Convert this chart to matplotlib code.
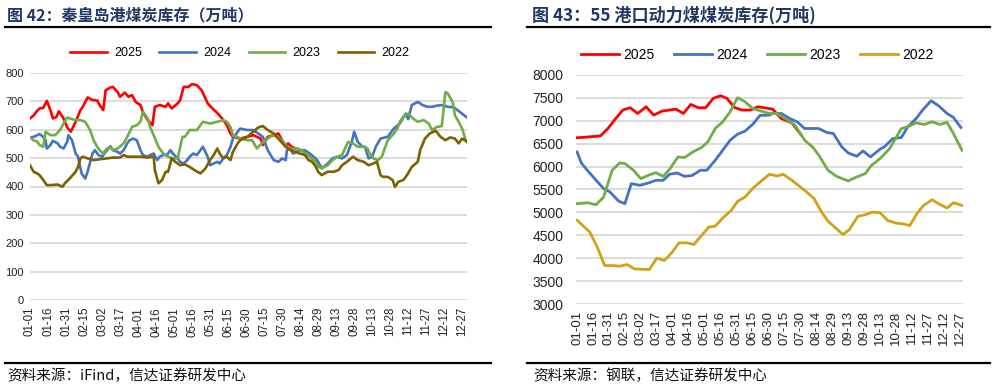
import matplotlib
matplotlib.use("Agg")
import matplotlib.pyplot as plt
from matplotlib.lines import Line2D

plt.rcParams['font.family'] = ['Liberation Sans', 'Noto Sans CJK SC', 'DejaVu Sans']

# ---------------- data ----------------
tick_days = [0, 15, 30, 45, 60, 75, 90, 105, 120, 135, 150, 165, 180, 195, 210,
             225, 240, 255, 270, 285, 300, 315, 330, 345, 360]
tick_labels = ["01-01", "01-16", "01-31", "02-15", "03-02", "03-17", "04-01", "04-16",
               "05-01", "05-16", "05-31", "06-15", "06-30", "07-15", "07-30", "08-14",
               "08-29", "09-13", "09-28", "10-13", "10-28", "11-12", "11-27", "12-12", "12-27"]
series_names = ["2025", "2024", "2023", "2022"]

# Left: Qinhuangdao port coal inventory (10k t), day-of-year
qhd_2025_days = [0,3,6,8,11,14,17,19,22,24, 28,31,34,38,42,44,48,52,56,58,
                 61,63,67,69,73,75,79,82,85,88, 92,94,98,102,104,108,113,115,118,123,
                 125,128,132,135,139,143,148,152,156,160, 164,167,169,175,181,186,192,194,198,203,
                 207,210,213,215,218,221]
qhd_2025 = [640,650,667,675,677,702,669,640,645,665, 640,608,593,628,669,681,714,705,703,687,
            669,739,749,751,733,716,731,716,722,698, 687,663,634,616,681,687,681,693,675,693,
            704,751,751,761,757,739,693,675,659,640, 616,587,575,569,575,581,569,546,575,581,
            587,563,540,552,540,534]

qhd_2024_days = [0,3,6,8,11,13,14,17,19,23, 25,28,31,32,35,38,40,43,46,48,
                 52,54,57,60,63,67,69,73,75,78, 81,83,86,89,92,94,98,100,103,106,
                 108,111,114,117,119,123,125,128,131,133, 136,139,142,144,148,150,153,156,158,161,
                 164,167,169,173,175,181,186,192,194,198, 203,207,210,213,214,217,219,225,229,233,
                 238,240,243,248,252,256,260,264,268,270, 273,277,279,282,285,288,292,298,303,308,
                 313,315,318,323,327,331,335,339,343,348, 353,358,364]
qhd_2024 = [573,575,581,585,575,563,534,546,561,552, 540,534,558,581,563,516,505,446,428,452,
            516,528,511,505,522,542,528,522,516,528, 552,563,569,563,528,511,505,511,516,493,
            505,511,511,528,516,499,487,481,493,505, 516,511,528,540,505,475,481,487,481,499,
            511,540,569,593,604,599,599,581,575,528, 493,487,499,493,528,534,516,528,528,516,
            499,487,464,481,499,505,499,511,557,593, 557,540,540,499,505,540,569,575,604,622,
            657,637,687,698,687,681,681,685,687,681, 679,663,643]

qhd_2023_days = [0,3,6,8,11,13,17,21,25,28, 31,33,38,42,46,50,53,56,58,61,
                 64,67,69,73,78,81,85,89,92,94, 98,100,103,107,111,115,119,123,127,129,
                 133,139,144,150,156,161,164,167,169,175, 181,185,189,193,198,202,206,210,214,218,
                 223,228,233,238,240,243,248,252,256,260, 263,265,269,273,278,281,283,286,290,293,
                 298,302,306,308,311,315,319,323,328,332, 335,339,343,346,348,352,354,357,360,363,
                 364]
qhd_2023 = [573,563,558,546,540,593,581,581,599,622, 643,640,634,634,628,599,563,540,528,516,
            534,540,528,534,552,575,610,616,628,663, 640,610,581,540,516,505,499,499,575,575,
            599,599,628,622,628,634,628,610,581,570, 563,563,534,552,569,581,575,563,540,534,
            534,522,505,487,470,464,475,493,505,511, 540,557,552,540,540,534,516,499,493,505,
            563,581,604,628,646,657,640,628,634,622, 599,610,613,733,728,698,651,628,604,563,
            558]

qhd_2022_days = [0,3,6,8,11,14,18,23,27,29, 33,38,40,42,44,48,53,58,64,69,
                 75,78,81,86,92,98,103,104,107,110, 113,115,118,121,125,129,133,138,142,146,
                 150,153,156,158,161,164,167,169,173,175, 181,186,190,194,198,203,208,213,217,221,
                 225,229,232,235,238,240,243,248,253,257, 260,264,269,273,278,282,286,289,292,294,
                 298,302,304,307,311,314,318,323,325,329, 333,338,342,346,350,354,357,360,364]
qhd_2022 = [475,452,446,440,423,405,405,407,399,411, 428,452,469,499,505,499,493,496,499,502,
            502,511,505,505,505,502,505,458,411,423, 452,452,499,487,475,478,469,455,446,463,
            493,511,534,516,499,505,493,522,552,563, 575,593,608,613,599,587,563,540,528,522,
            516,511,493,487,470,452,440,452,452,458, 475,487,505,493,487,475,481,487,440,434,
            434,423,399,417,423,440,469,487,528,569, 587,596,575,563,573,569,552,569,558]

# Right: 55-port thermal coal inventory (10k t)
p55_2025_days = [0,7,14,22,29,36,43,50,57,65,72,80,87,93,100,107,114,121,128,135,
                 141,148,155,163,170,177,184,192,202,211]
p55_2025 = [6630,6640,6655,6670,6830,7040,7234,7285,7160,7306,7124,7212,7235,7255,7160,
            7357,7285,7285,7489,7547,7489,7292,7234,7234,7306,7280,7255,7050,6956,6686]

p55_2024_days = [0,4,11,18,25,31,39,45,51,59, 67,74,81,87,94,101,108,116,122,130,
                 137,144,151,158,166,172,181,184,192,200, 207,214,227,235,241,249,255,263,269,276,
                 285,289,297,305,311,319,325,333,340,348, 354,361]
p55_2024 = [6320,6080,5883,5700,5518,5445,5248,5190,5628,5591, 5642,5700,5700,5832,5861,5788,5803,5920,5920,6139,
            6358,6577,6708,6774,6942,7117,7124,7160,7160,7050, 6978,6832,6832,6744,6723,6431,6299,6226,6343,6211,
            6380,6431,6613,6635,6869,7050,7234,7438,7328,7160, 7073,6854]

p55_2023_days = [0,10,18,25,33,40,45,53,60,67, 74,81,87,95,101,109,117,123,130,137,
                 144,151,158,165,173,181,188,196,205,214, 222,228,236,244,255,263,271,277,285,294,
                 305,311,319,326,334,341,348,354,362]
p55_2023 = [5190,5210,5168,5336,5920,6080,6066,5920,5737,5810, 5868,5788,5942,6212,6197,6321,6416,6540,6832,6978,
            7197,7504,7416,7270,7212,7160,7160,7050,6905,6577, 6416,6226,5920,5788,5686,5774,5846,6029,6175,6394,
            6832,6869,6956,6920,6978,6920,6964,6723,6358]

p55_2022_days = [0,12,19,26,34,40,47,54,68,75, 82,89,96,103,110,117,124,130,137,145,
                 151,158,166,174,181,188,194,202,210,216, 223,230,236,243,250,256,264,271,278,285,
                 292,300,306,313,320,326,334,340,348,354, 362]
p55_2022 = [4830,4570,4241,3839,3839,3825,3861,3766,3752,4000, 3949,4117,4336,4336,4300,4496,4679,4701,4876,5044,
            5241,5336,5540,5701,5832,5796,5832,5701,5555,5445, 5299,5007,4810,4664,4518,4620,4912,4949,5007,4993,
            4825,4766,4752,4715,4985,5153,5277,5190,5095,5212, 5153]

left_yticks = [0, 100, 200, 300, 400, 500, 600, 700, 800]
right_yticks = [3000, 3500, 4000, 4500, 5000, 5500, 6000, 6500, 7000, 7500, 8000]

title_left = "图 42：秦皇岛港煤炭库存（万吨）"
title_right = "图 43：55 港口动力煤煤炭库存(万吨)"
source_left = "资料来源：iFind，信达证券研发中心"
source_right = "资料来源：钢联，信达证券研发中心"

# ---------------- styling ----------------
W, H = 995, 388
fig = plt.figure(figsize=(W / 100, H / 100), dpi=100)

def fx(px):
    return px / W

def fy(py):
    return 1 - py / H

grid_c = "#D9D9D9"
title_c = "#1F3864"
cjk = ['Noto Sans CJK SC', 'DejaVu Sans']

colors_left = ["#FF0000", "#4472C4", "#70AD47", "#7F6000"]
colors_right = ["#FF0000", "#4472C4", "#70AD47", "#D4A017"]

def style_axes(ax, yticks, ylabel_size, xlabel_size, ypad):
    for s in ax.spines.values():
        s.set_visible(False)
    ax.set_yticks(yticks)
    ax.yaxis.grid(True, color=grid_c, linewidth=1.3)
    ax.set_axisbelow(True)
    ax.tick_params(axis='both', length=0)
    ax.tick_params(axis='y', labelsize=ylabel_size, pad=ypad, labelcolor="#222222")
    ax.set_xticks(tick_days)
    ax.set_xticklabels(tick_labels, rotation=90, fontsize=xlabel_size, color="#222222")
    ax.tick_params(axis='x', pad=5)

# Left panel
axL = fig.add_axes([fx(30), fy(300), fx(467) - fx(30), fy(73) - fy(300)])
left_data = [(qhd_2025_days, qhd_2025), (qhd_2024_days, qhd_2024),
             (qhd_2023_days, qhd_2023), (qhd_2022_days, qhd_2022)]
handlesL = []
for (d, v), c, name in zip(left_data, colors_left, series_names):
    h, = axL.plot(d, v, color=c, linewidth=1.9, label=name, solid_joinstyle='round')
    handlesL.append(h)
axL.set_ylim(0, 800)
axL.set_xlim(0, 364)
style_axes(axL, left_yticks, 8, 8.3, 4.5)
legL = fig.legend(handles=handlesL, loc='center', bbox_to_anchor=(fx(240), fy(53)),
                  ncol=4, frameon=False, fontsize=9, handlelength=2.9,
                  handletextpad=0.6, columnspacing=1.4)

# Right panel
axR = fig.add_axes([fx(576), fy(304), fx(963) - fx(576), fy(75) - fy(304)])
right_data = [(p55_2025_days, p55_2025), (p55_2024_days, p55_2024),
              (p55_2023_days, p55_2023), (p55_2022_days, p55_2022)]
handlesR = []
for (d, v), c, name in zip(right_data, colors_right, series_names):
    h, = axR.plot(d, v, color=c, linewidth=2.0, label=name, solid_joinstyle='round')
    handlesR.append(h)
axR.set_ylim(3000, 8000)
axR.set_xlim(-1, 363)
style_axes(axR, right_yticks, 10, 9.5, 9)
legR = fig.legend(handles=handlesR, loc='center', bbox_to_anchor=(fx(757), fy(55)),
                  ncol=4, frameon=False, fontsize=10, handlelength=2.75,
                  handletextpad=0.3, columnspacing=1.4)

# Titles
fig.text(fx(7), fy(15), title_left, family=cjk, fontsize=11.5, fontweight='bold',
         color=title_c, ha='left', va='center')
fig.text(fx(532), fy(15), title_right, family=cjk, fontsize=12.3, fontweight='bold',
         color=title_c, ha='left', va='center')

# Rules
for x0, x1 in [(5, 491), (527, 990)]:
    fig.add_artist(Line2D([fx(x0), fx(x1)], [fy(27), fy(27)], color='black', linewidth=1.6))
    fig.add_artist(Line2D([fx(x0), fx(x1)], [fy(363), fy(363)], color='black', linewidth=1.6))

# Sources
fig.text(fx(7), fy(376), source_left, family=cjk, fontsize=10.5, color='#111111',
         ha='left', va='center', style='italic')
fig.text(fx(533), fy(376), source_right, family=cjk, fontsize=10.5, color='#111111',
         ha='left', va='center', style='italic')

fig.savefig("out.png", dpi=100)
